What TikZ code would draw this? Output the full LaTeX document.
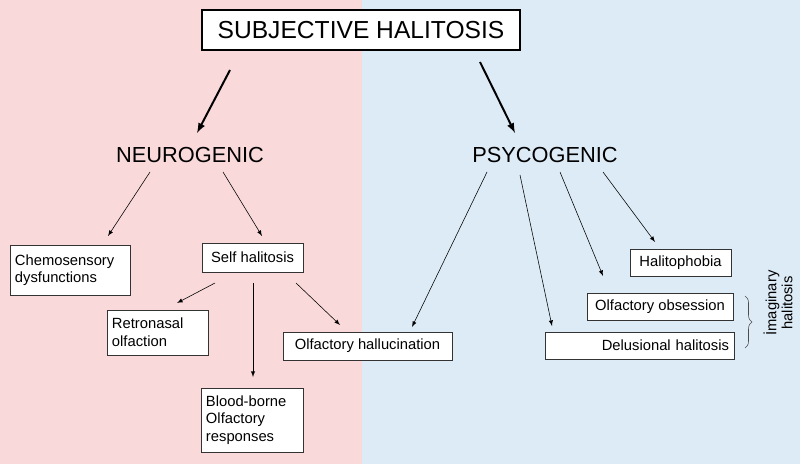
\documentclass[tikz,border=0pt]{standalone}
\usepackage{fontspec}
\setmainfont{Liberation Sans}
\usetikzlibrary{decorations.pathreplacing}
\definecolor{pinkbg}{HTML}{F9D9D9}
\definecolor{bluebg}{HTML}{DDEBF7}
\begin{document}
\begin{tikzpicture}[x=0.025cm,y=-0.025cm,
  box/.style={draw=black!80,fill=white,line width=0.5pt,font=\fontsize{10.5}{12.5}\selectfont,inner sep=0pt},
  head/.style={font=\fontsize{15.5}{18}\selectfont},
  thin/.style={-{latex},line width=0.4pt},
  thick/.style={-{latex},line width=1.4pt}]
\useasboundingbox (0,0) rectangle (800,464);
\fill[pinkbg] (0,0) rectangle (362,464);
\fill[bluebg] (362,0) rectangle (800,464);
\node[box,minimum width=7.95cm,minimum height=1cm,font=\fontsize{17.5}{20}\selectfont,draw=black,line width=0.8pt] (title) at (361,30) {SUBJECTIVE HALITOSIS};
\node[head] (neuro) at (190,155) {NEUROGENIC};
\node[head] (psy) at (545,155) {PSYCOGENIC};
\node[box,minimum width=3cm,minimum height=1.25cm,text width=2.75cm,align=left] (chemo) at (70,270) {Chemosensory\\dysfunctions};
\node[box,minimum width=2.525cm,minimum height=0.725cm] (self) at (252.5,257.5) {Self halitosis};
\node[box,minimum width=2.525cm,minimum height=1.125cm,text width=2.275cm,align=left] (retro) at (157.5,332.5) {Retronasal\\olfaction};
\node[box,minimum width=4.225cm,minimum height=0.7cm] (hall) at (367.5,346) {Olfactory hallucination};
\node[box,minimum width=2.55cm,minimum height=1.6cm,text width=2.3cm,align=left] (blood) at (252,420) {Blood-borne\\Olfactory\\responses};
\node[box,minimum width=2.525cm,minimum height=0.675cm] (phob) at (680.5,262.5) {Halitophobia};
\node[box,minimum width=3.65cm,minimum height=0.675cm] (obs) at (660,306.5) {Olfactory obsession};
\node[box,minimum width=4.725cm,minimum height=0.675cm,text width=4.475cm,align=right] (delu) at (639.5,345.5) {Delusional halitosis};
\draw[decorate,decoration={brace,amplitude=5pt},draw=black!70] (745,296) -- (745,348);
\node[rotate=90,align=center,font=\fontsize{10.5}{11.5}\selectfont] (imag) at (778,303) {İmaginary\\halitosis};
\coordinate (t1) at (230,70); \coordinate (t2) at (480,62);
\coordinate (n1) at (150,172); \coordinate (n2) at (223,172);
\coordinate (s1) at (215,283); \coordinate (s2) at (253,283); \coordinate (s3) at (296,283);
\coordinate (p1) at (487,172); \coordinate (p2) at (520,175); \coordinate (p3) at (560,172); \coordinate (p4) at (603,172);
\coordinate (e1) at (197,133); \coordinate (e2) at (515,133);
\coordinate (a1) at (108,236); \coordinate (a2) at (262,236);
\coordinate (b1) at (177,303); \coordinate (b2) at (253,377); \coordinate (b3) at (340,325);
\coordinate (c1) at (412,327); \coordinate (c2) at (552,326); \coordinate (c3) at (603,276); \coordinate (c4) at (655,242);
\draw[thick] (t1) -- (e1);
\draw[thick] (t2) -- (e2);
\draw[thin] (n1) -- (a1);
\draw[thin] (n2) -- (a2);
\draw[thin] (s1) -- (b1);
\draw[thin] (s2) -- (b2);
\draw[thin] (s3) -- (b3);
\draw[thin] (p1) -- (c1);
\draw[thin] (p2) -- (c2);
\draw[thin] (p3) -- (c3);
\draw[thin] (p4) -- (c4);
\end{tikzpicture}
\end{document}
